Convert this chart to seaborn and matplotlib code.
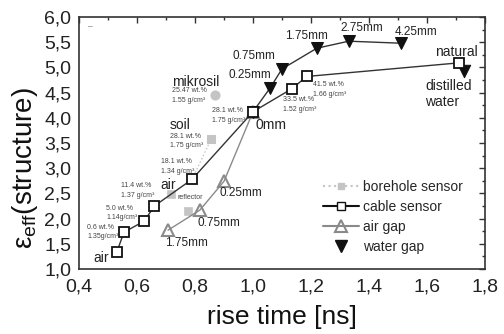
import numpy as np
import matplotlib
matplotlib.use("Agg")
import matplotlib.pyplot as plt
import seaborn as sns
from matplotlib.lines import Line2D
from matplotlib.ticker import MultipleLocator, FuncFormatter

# cable sensor (air -> soil samples -> 0mm -> water samples -> natural)
cable_x = [0.53, 0.555, 0.625, 0.66, 0.79, 1.0, 1.135, 1.185, 1.71]
cable_y = [1.33, 1.73, 1.95, 2.25, 2.78, 4.12, 4.58, 4.82, 5.09]

# air gap (1.75mm, 0.75mm, 0.25mm, 0mm)
airgap_x = [0.707, 0.817, 0.90, 1.0]
airgap_y = [1.77, 2.17, 2.74, 4.12]

# water gap (0mm, 0.25, 0.75, 1.75, 2.75, 4.25mm)
water_x = [1.0, 1.06, 1.10, 1.22, 1.33, 1.51]
water_y = [4.12, 4.60, 4.97, 5.38, 5.52, 5.48]
distilled_x = [1.727]
distilled_y = [4.93]

# borehole sensor
bore_x = [0.79, 0.855]
bore_y = [2.78, 3.57]
reflector_x = [0.717, 0.776]
reflector_y = [2.49, 2.16]
mikrosil_x = [0.87]
mikrosil_y = [4.46]

big_labels = [("mikrosil", 0.72, 4.72), ("soil", 0.714, 3.85), ("air", 0.682, 2.67),
              ("air", 0.448, 1.22), ("0mm", 1.007, 3.86), ("natural", 1.628, 5.30),
              ("distilled\nwater", 1.593, 4.47)]
mm_labels = [("0.25mm", 0.914, 4.85), ("0.75mm", 0.928, 5.23), ("1.75mm", 1.11, 5.62),
             ("2.75mm", 1.30, 5.78), ("4.25mm", 1.49, 5.70),
             ("0.25mm", 0.886, 2.51), ("0.75mm", 0.81, 1.91), ("1.75mm", 0.697, 1.52)]
small_labels = [("25.47 wt.%\n1.55 g/cm³", 0.72, 4.44), ("28.1 wt.%\n1.75 g/cm³", 0.714, 3.54),
                ("18.1 wt.%\n1.34 g/cm³", 0.683, 3.03), ("11.4 wt.%\n1.37 g/cm³", 0.545, 2.56),
                ("5.0 wt.%\n1.14g/cm³", 0.493, 2.11), ("0.6 wt.%\n1.35g/cm³", 0.428, 1.73),
                ("28.1 wt.%\n1.75 g/cm³", 0.858, 4.05), ("33.5 wt.%\n1.52 g/cm³", 1.103, 4.26),
                ("41.5 wt.%\n1.66 g/cm³", 1.207, 4.56), ("reflector", 0.738, 2.41)]

sns.set_theme(style="white")
plt.rcParams['font.family'] = ['Liberation Sans', 'DejaVu Sans']
plt.rcParams['mathtext.fontset'] = 'custom'
plt.rcParams['mathtext.rm'] = 'Liberation Sans'
plt.rcParams['mathtext.it'] = 'Liberation Sans'

fig = plt.figure(figsize=(5.04, 3.34), dpi=100)
ax = fig.add_axes([79/504, 1-269/334, 406/504, 252/334])

black = '#111111'
gray = '#8a8a8a'
light = '#c4c4c4'

sns.lineplot(x=bore_x, y=bore_y, sort=False, estimator=None, ax=ax, color=light,
             linestyle=':', linewidth=1.0, marker='s', markersize=6, markeredgecolor=light, zorder=2)
sns.scatterplot(x=reflector_x, y=reflector_y, ax=ax, color=light, marker='s', s=36,
                edgecolor=light, zorder=2)
sns.scatterplot(x=mikrosil_x, y=mikrosil_y, ax=ax, color=light, marker='o', s=45,
                edgecolor=light, zorder=2)
sns.lineplot(x=airgap_x, y=airgap_y, sort=False, estimator=None, ax=ax, color=gray,
             linewidth=1.0, marker='^', markersize=9, markerfacecolor='none',
             markeredgecolor=gray, markeredgewidth=1.5, zorder=3)
sns.lineplot(x=water_x, y=water_y, sort=False, estimator=None, ax=ax, color='#333333',
             linewidth=1.0, marker='v', markersize=9, markeredgecolor=black,
             markerfacecolor=black, zorder=3)
sns.scatterplot(x=distilled_x, y=distilled_y, ax=ax, color=black, marker='v', s=80,
                edgecolor=black, zorder=3)
sns.lineplot(x=cable_x, y=cable_y, sort=False, estimator=None, ax=ax, color='#333333',
             linewidth=1.0, marker='s', markersize=7, markerfacecolor='white',
             markeredgecolor=black, markeredgewidth=1.3, zorder=4)

for txt, x, y in big_labels:
    ax.text(x, y, txt, fontsize=10, color='#222222', va='center', ha='left', linespacing=1.15)
for txt, x, y in mm_labels:
    ax.text(x, y, txt, fontsize=8.5, color='#222222', va='center', ha='left')
for txt, x, y in small_labels:
    ax.text(x, y, txt, fontsize=5, color='#444444', va='center', ha='left', linespacing=1.5)
ax.text(0.43, 5.8, '–', fontsize=6, color='#555555', va='center')

ax.set_xlim(0.4, 1.8)
ax.set_ylim(1.0, 6.0)
ax.xaxis.set_major_locator(MultipleLocator(0.2))
ax.xaxis.set_minor_locator(MultipleLocator(0.1))
ax.yaxis.set_major_locator(MultipleLocator(0.5))
ax.yaxis.set_minor_locator(MultipleLocator(0.25))
fmt = FuncFormatter(lambda v, p: f"{v:.1f}".replace('.', ','))
ax.xaxis.set_major_formatter(fmt)
ax.yaxis.set_major_formatter(fmt)
ax.tick_params(which='both', top=True, right=True, labelsize=14, colors='#333333',
               labelcolor='#222222', width=1.0)
ax.tick_params(which='major', length=4.5)
ax.tick_params(which='minor', length=2.5)
ax.tick_params(axis='x', which='both', direction='out', pad=2)
ax.tick_params(axis='y', which='both', direction='out', pad=1)
for t in ax.xaxis.get_ticklines(minor=False)[1::2] + ax.xaxis.get_ticklines(minor=True)[1::2]:
    t.set_marker(3)
for t in ax.yaxis.get_ticklines(minor=False)[1::2] + ax.yaxis.get_ticklines(minor=True)[1::2]:
    t.set_marker(0)
for s in ax.spines.values():
    s.set_color('#333333')
    s.set_linewidth(1.2)

ax.set_xlabel('rise time [ns]', fontsize=19, color='#111111', labelpad=7)
ax.set_ylabel(r'ε$_{\mathrm{eff}}$(structure)', fontsize=20, color='#111111')
ax.yaxis.set_label_coords(-0.095, 0.40)

handles = [
    Line2D([], [], color=light, linestyle=':', marker='s', markersize=5, markeredgecolor=light),
    Line2D([], [], color=black, marker='s', markersize=6, markerfacecolor='white',
           markeredgecolor=black),
    Line2D([], [], color=gray, marker='^', markersize=8, markerfacecolor='none',
           markeredgecolor=gray, markeredgewidth=1.5),
    Line2D([], [], color=black, linestyle='none', marker='v', markersize=8),
]
labels = ['borehole sensor', 'cable sensor', 'air gap', 'water gap']
ax.legend(handles, labels, loc='upper left', bbox_to_anchor=(0.60, 0.355), frameon=False,
          fontsize=10, handlelength=2.6, handletextpad=0.3, labelspacing=0.45,
          borderaxespad=0, borderpad=0)

fig.savefig('out.png', dpi=100)
